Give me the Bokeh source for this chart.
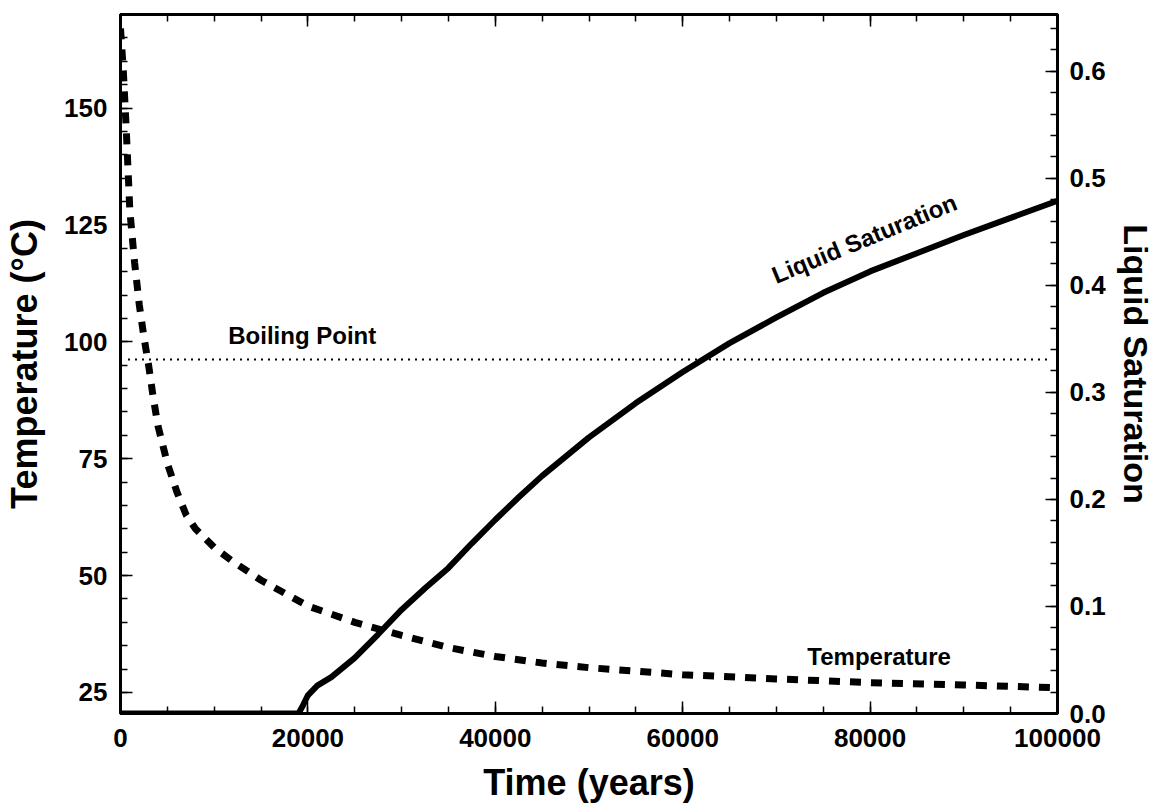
from bokeh.plotting import figure
from bokeh.models import (Range1d, LinearAxis, SingleIntervalTicker,
                          NumeralTickFormatter, CustomJSTickFormatter)
from bokeh.core.properties import value
from bokeh.embed import file_html
from bokeh.resources import INLINE

# ---- data ----
temp_time = [0, 300, 600, 1000, 1500, 2000, 2500, 3000, 3500, 4000, 5000, 6000, 7000,
             8000, 10000, 12000, 15000, 20000, 25000, 30000, 35000, 40000, 45000,
             50000, 60000, 70000, 80000, 90000, 100000]
temperature = [167, 158, 146, 128, 117, 108, 101, 95, 88, 82, 74, 68, 63,
               60, 56, 53, 49, 43.5, 40, 37.2, 34.6, 32.7, 31.3,
               30.3, 28.8, 27.9, 27.1, 26.6, 26.0]

sat_time = [0, 19000, 19500, 20000, 21000, 22500, 25000, 27500, 30000, 32500, 35000,
            37500, 40000, 42500, 45000, 47500, 50000, 55000, 60000, 65000, 70000,
            75000, 80000, 85000, 90000, 95000, 100000]
saturation = [0, 0, 0.008, 0.017, 0.026, 0.034, 0.052, 0.074, 0.097, 0.117, 0.136,
              0.159, 0.181, 0.202, 0.222, 0.240, 0.258, 0.290, 0.319, 0.346, 0.370,
              0.393, 0.413, 0.430, 0.447, 0.463, 0.479]

boil_time = [800, 99000]
boil_temp = [96.2, 96.2]

FONT = "Liberation Sans"

p = figure(width=1158, height=811, output_backend="svg", toolbar_location=None,
           x_range=Range1d(0, 100000), y_range=Range1d(20.5, 170),
           min_border_left=120, min_border_right=101, min_border_top=14,
           min_border_bottom=98)
p.extra_y_ranges = {"sat": Range1d(0, 0.653)}
p.xgrid.visible = False
p.ygrid.visible = False
p.outline_line_color = "black"
p.outline_line_width = 3
p.background_fill_color = "white"
p.border_fill_color = "white"

def style(ax, title_size="36px"):
    ax.axis_line_width = 3
    ax.axis_line_color = "black"
    ax.major_tick_in = 12
    ax.major_tick_out = 0
    ax.minor_tick_in = 7
    ax.minor_tick_out = 0
    ax.major_tick_line_width = 1.5
    ax.minor_tick_line_width = 1.5
    ax.major_label_text_font = FONT
    ax.major_label_text_font_style = "bold"
    ax.major_label_text_font_size = "26px"
    ax.major_label_text_color = "black"
    ax.axis_label_text_font = FONT
    ax.axis_label_text_font_style = "bold"
    ax.axis_label_text_font_size = title_size
    ax.axis_label_text_color = "black"

# bottom axis
xa = p.xaxis[0]
xa.ticker = SingleIntervalTicker(interval=20000, num_minor_ticks=4)
xa.formatter = NumeralTickFormatter(format="0")
xa.axis_label = "Time (years)"
style(xa)
xa.major_label_standoff = 15
xa.axis_label_standoff = 12

# left axis
ya = p.yaxis[0]
ya.ticker = SingleIntervalTicker(interval=25, num_minor_ticks=5)
ya.axis_label = "Temperature (°C)"
style(ya)
ya.major_label_standoff = 13
ya.axis_label_standoff = 16

# right axis
ra = LinearAxis(y_range_name="sat", axis_label="Liquid Saturation",
                ticker=SingleIntervalTicker(interval=0.1, num_minor_ticks=5),
                formatter=NumeralTickFormatter(format="0.0"))
style(ra, title_size="34px")
ra.major_label_standoff = 12
ra.axis_label_standoff = 8
p.add_layout(ra, "right")

# top axis (ticks only)
ta = LinearAxis(ticker=SingleIntervalTicker(interval=20000, num_minor_ticks=4),
                formatter=CustomJSTickFormatter(code="return ''"))
style(ta)
ta.major_label_standoff = 0
p.add_layout(ta, "above")

# curves
p.line(boil_time, boil_temp, line_color="black", line_width=2, line_dash="2 5")
p.line(temp_time, temperature, line_color="black", line_width=7, line_dash="11 10",
       line_cap="butt")
p.line(sat_time, saturation, y_range_name="sat", line_color="black", line_width=6,
       line_join="round")

# annotations
p.text(x=[11500], y=[101.3], text=["Boiling Point"], text_font=value(FONT),
       text_font_style="bold", text_font_size="24px", text_align="left",
       text_baseline="middle", text_color="black")
p.text(x=[73300], y=[32.7], text=["Temperature"], text_font=value(FONT),
       text_font_style="bold", text_font_size="24px", text_align="left",
       text_baseline="middle", text_color="black")
p.text(x=[70200], y=[0.397], y_range_name="sat", text=["Liquid Saturation"],
       text_font=value(FONT), text_font_style="bold", text_font_size="24px",
       text_align="left", text_baseline="bottom", angle=0.39, text_color="black")

open("out.html", "w").write(file_html(p, INLINE))
